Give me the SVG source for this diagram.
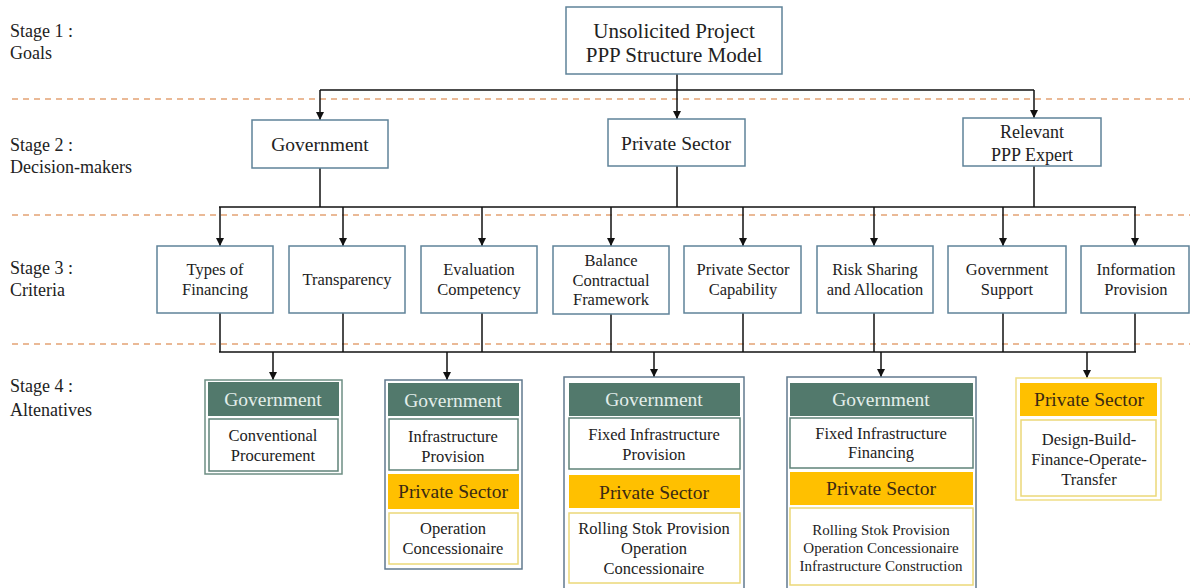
<svg xmlns="http://www.w3.org/2000/svg" width="1190" height="588" viewBox="0 0 1190 588" font-family="'Liberation Serif', 'DejaVu Serif', serif">
<defs>
<marker id="ah" viewBox="0 0 10 10" refX="10" refY="5" markerWidth="8" markerHeight="8" markerUnits="userSpaceOnUse" orient="auto">
<path d="M0,0 L10,5 L0,10 Z" fill="#111"/>
</marker>
<style>
text{font-family:'Liberation Serif','DejaVu Serif',serif;fill:#222;text-anchor:middle}
.stage{text-anchor:start;font-size:18px;fill:#222}
.dash{stroke:#E3A374;stroke-width:1.5;stroke-dasharray:6 5;fill:none}
.node{fill:#fff;stroke:#5f8399;stroke-width:1.5}
.t19{font-size:19.5px}
.t16{font-size:16.5px}
.t15{font-size:16.5px}
.t14{font-size:15px}
.conn{stroke:#111;stroke-width:1.5;fill:none}
.gh{fill:#52796C}
.ghT{fill:#E3EEEA;font-size:19.5px}
.ph{fill:#FFC000}
.phT{fill:#3A2A12;font-size:19.5px}
.gbody{fill:#fff;stroke:#5f8278;stroke-width:1.5}
.pbody{fill:#fff;stroke:#EBD878;stroke-width:1.5}
.outB{fill:#fff;stroke:#617A8E;stroke-width:1.5}
.outG{fill:#fff;stroke:#6E8E84;stroke-width:1.5}
.outY{fill:#fff;stroke:#EFDE86;stroke-width:1.5}
</style>
</defs>
<rect width="1190" height="588" fill="#fff"/>

<g id="stages">
<text class="stage" x="10" y="37">Stage 1 :</text>
<text class="stage" x="10" y="59">Goals</text>
<text class="stage" x="10" y="151">Stage 2 :</text>
<text class="stage" x="10" y="173">Decision-makers</text>
<text class="stage" x="10" y="274">Stage 3 :</text>
<text class="stage" x="10" y="296">Criteria</text>
<text class="stage" x="10" y="392">Stage 4 :</text>
<text class="stage" x="10" y="416">Altenatives</text>
</g>

<g id="separators">
<line class="dash" x1="12" y1="99" x2="1190" y2="99"/>
<line class="dash" x1="12" y1="215" x2="1190" y2="215"/>
<line class="dash" x1="12" y1="344" x2="1190" y2="344"/>
</g>

<g id="connectors">
<polyline class="conn" points="677,74 677,90"/>
<line class="conn" x1="320" y1="90" x2="1034" y2="90"/>
<line class="conn" x1="320" y1="90" x2="320" y2="120" marker-end="url(#ah)"/>
<line class="conn" x1="677" y1="90" x2="677" y2="119" marker-end="url(#ah)"/>
<line class="conn" x1="1034" y1="90" x2="1034" y2="118" marker-end="url(#ah)"/>

<line class="conn" x1="320" y1="168" x2="320" y2="207"/>
<line class="conn" x1="677" y1="166" x2="677" y2="207"/>
<line class="conn" x1="1034" y1="166" x2="1034" y2="207"/>
<line class="conn" x1="219" y1="207" x2="1136" y2="207"/>
<line class="conn" x1="220" y1="207" x2="220" y2="246" marker-end="url(#ah)"/>
<line class="conn" x1="343" y1="207" x2="343" y2="246" marker-end="url(#ah)"/>
<line class="conn" x1="482" y1="207" x2="482" y2="246" marker-end="url(#ah)"/>
<line class="conn" x1="611" y1="207" x2="611" y2="246" marker-end="url(#ah)"/>
<line class="conn" x1="743" y1="207" x2="743" y2="246" marker-end="url(#ah)"/>
<line class="conn" x1="874" y1="207" x2="874" y2="246" marker-end="url(#ah)"/>
<line class="conn" x1="1003" y1="207" x2="1003" y2="246" marker-end="url(#ah)"/>
<line class="conn" x1="1135" y1="207" x2="1135" y2="246" marker-end="url(#ah)"/>

<line class="conn" x1="220" y1="313" x2="220" y2="352"/>
<line class="conn" x1="343" y1="313" x2="343" y2="352"/>
<line class="conn" x1="482" y1="313" x2="482" y2="352"/>
<line class="conn" x1="611" y1="314" x2="611" y2="352"/>
<line class="conn" x1="743" y1="313" x2="743" y2="352"/>
<line class="conn" x1="874" y1="313" x2="874" y2="352"/>
<line class="conn" x1="1003" y1="313" x2="1003" y2="352"/>
<line class="conn" x1="1135" y1="313" x2="1135" y2="352"/>
<line class="conn" x1="219" y1="352" x2="1136" y2="352"/>
<line class="conn" x1="273" y1="352" x2="273" y2="380" marker-end="url(#ah)"/>
<line class="conn" x1="447" y1="352" x2="447" y2="380" marker-end="url(#ah)"/>
<line class="conn" x1="654" y1="352" x2="654" y2="377" marker-end="url(#ah)"/>
<line class="conn" x1="881" y1="352" x2="881" y2="377" marker-end="url(#ah)"/>
<line class="conn" x1="1087" y1="352" x2="1087" y2="378" marker-end="url(#ah)"/>
</g>

<g id="goal">
<rect class="node" x="566" y="7" width="216" height="67"/>
<text x="674" y="38" style="font-size:21px">Unsolicited  Project</text>
<text x="674" y="62" style="font-size:21px">PPP Structure Model</text>
</g>

<g id="dm-government">
<rect class="node" x="252" y="120" width="136" height="48"/>
<text class="t19" x="320" y="151">Government</text>
</g>
<g id="dm-private">
<rect class="node" x="608" y="119" width="137" height="47"/>
<text class="t19" x="676" y="150">Private Sector</text>
</g>
<g id="dm-expert">
<rect class="node" x="963" y="118" width="138" height="48"/>
<text x="1032" y="138" style="font-size:18px">Relevant</text>
<text x="1032" y="161" style="font-size:18px">PPP Expert</text>
</g>

<g id="c-financing">
<rect class="node" x="157" y="246" width="116" height="67"/>
<text class="t15" x="215" y="275">Types of</text>
<text class="t15" x="215" y="295">Financing</text>
</g>
<g id="c-transparency">
<rect class="node" x="289" y="246" width="116" height="67"/>
<text class="t15" x="347" y="285">Transparency</text>
</g>
<g id="c-evaluation">
<rect class="node" x="421" y="246" width="116" height="67"/>
<text class="t15" x="479" y="275">Evaluation</text>
<text class="t15" x="479" y="295">Competency</text>
</g>
<g id="c-balance">
<rect class="node" x="553" y="246" width="116" height="68"/>
<text class="t15" x="611" y="266">Balance</text>
<text class="t15" x="611" y="286">Contractual</text>
<text class="t15" x="611" y="305">Framework</text>
</g>
<g id="c-capability">
<rect class="node" x="684" y="246" width="117" height="67"/>
<text class="t15" x="743" y="275">Private Sector</text>
<text class="t15" x="743" y="295">Capability</text>
</g>
<g id="c-risk">
<rect class="node" x="817" y="246" width="116" height="67"/>
<text class="t15" x="875" y="275">Risk Sharing</text>
<text class="t15" x="875" y="295">and Allocation</text>
</g>
<g id="c-support">
<rect class="node" x="948" y="246" width="118" height="67"/>
<text class="t15" x="1007" y="275">Government</text>
<text class="t15" x="1007" y="295">Support</text>
</g>
<g id="c-information">
<rect class="node" x="1081" y="246" width="108" height="67"/>
<text class="t15" x="1136" y="275">Information</text>
<text class="t15" x="1136" y="295">Provision</text>
</g>

<g id="alt-1">
<rect class="outG" x="205" y="380" width="137" height="94"/>
<rect class="gh" x="208" y="382" width="131" height="34"/>
<text class="ghT" x="273" y="406">Government</text>
<rect class="gbody" x="209" y="419" width="129" height="52"/>
<text class="t16" x="273" y="441">Conventional</text>
<text class="t16" x="273" y="461">Procurement</text>
</g>

<g id="alt-2">
<rect class="outB" x="385" y="380" width="137" height="189"/>
<rect class="gh" x="388" y="383" width="131" height="33"/>
<text class="ghT" x="453" y="407">Government</text>
<rect class="gbody" x="389" y="419" width="129" height="51"/>
<text class="t16" x="453" y="442">Infrastructure</text>
<text class="t16" x="453" y="462">Provision</text>
<rect class="ph" x="388" y="474" width="131" height="35"/>
<text class="phT" x="453" y="498">Private Sector</text>
<rect class="pbody" x="389" y="513" width="129" height="51"/>
<text class="t16" x="453" y="534">Operation</text>
<text class="t16" x="453" y="554">Concessionaire</text>
</g>

<g id="alt-3">
<rect class="outB" x="564" y="377" width="180" height="214"/>
<rect class="gh" x="569" y="383" width="171" height="33"/>
<text class="ghT" x="654" y="406">Government</text>
<rect class="gbody" x="569" y="418" width="171" height="51"/>
<text class="t16" x="654" y="440">Fixed Infrastructure</text>
<text class="t16" x="654" y="460">Provision</text>
<rect class="ph" x="569" y="475" width="171" height="33"/>
<text class="phT" x="654" y="499">Private Sector</text>
<rect class="pbody" x="569" y="513" width="171" height="70"/>
<text class="t16" x="654" y="534">Rolling  Stok Provision</text>
<text class="t16" x="654" y="554">Operation</text>
<text class="t16" x="654" y="574">Concessionaire</text>
</g>

<g id="alt-4">
<rect class="outB" x="787" y="377" width="189" height="214"/>
<rect class="gh" x="790" y="383" width="183" height="33"/>
<text class="ghT" x="881" y="406">Government</text>
<rect class="gbody" x="790" y="418" width="183" height="50"/>
<text class="t16" x="881" y="439">Fixed Infrastructure</text>
<text class="t16" x="881" y="458">Financing</text>
<rect class="ph" x="790" y="472" width="183" height="33"/>
<text class="phT" x="881" y="495">Private Sector</text>
<rect class="pbody" x="790" y="508" width="183" height="77"/>
<text class="t14" x="881" y="535">Rolling Stok Provision</text>
<text class="t14" x="881" y="553">Operation Concessionaire</text>
<text class="t14" x="881" y="571">Infrastructure  Construction</text>
</g>

<g id="alt-5">
<rect class="outY" x="1016" y="378" width="145" height="122"/>
<rect class="ph" x="1020" y="383" width="137" height="33"/>
<text class="phT" x="1089" y="406">Private Sector</text>
<rect class="pbody" x="1021" y="420" width="135" height="76"/>
<text class="t16" x="1089" y="445">Design-Build-</text>
<text class="t16" x="1089" y="465">Finance-Operate-</text>
<text class="t16" x="1089" y="485">Transfer</text>
</g>
</svg>
